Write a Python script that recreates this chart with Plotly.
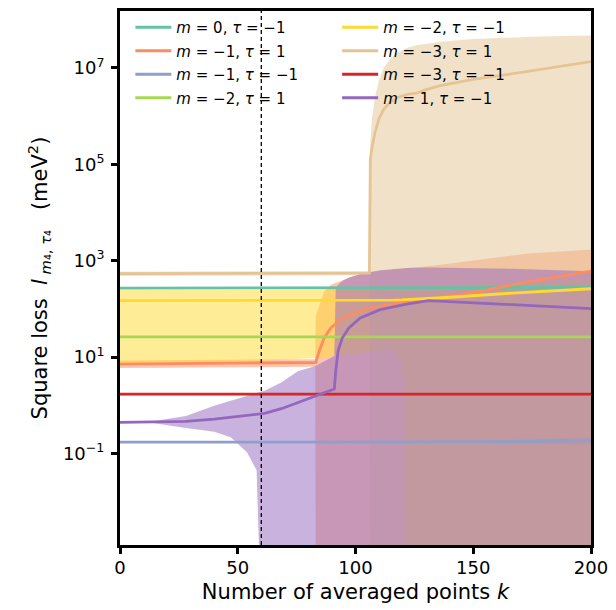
import plotly.graph_objects as go

# ---------------- data ----------------
FLOOR = 1e-4  # band lower bound that dropped to <= 0 (clipped on the log axis)

labels = [
    "<i>m</i> = 0, <i>τ</i> = −1",
    "<i>m</i> = −1, <i>τ</i> = 1",
    "<i>m</i> = −1, <i>τ</i> = −1",
    "<i>m</i> = −2, <i>τ</i> = 1",
    "<i>m</i> = −2, <i>τ</i> = −1",
    "<i>m</i> = −3, <i>τ</i> = 1",
    "<i>m</i> = −3, <i>τ</i> = −1",
    "<i>m</i> = 1, <i>τ</i> = −1",
]
colors = ["#66c2a5", "#fc8d62", "#8da0cb", "#a6d854",
          "#ffd92f", "#e5c494", "#d62728", "#9467bd"]

# m=0, tau=-1
k_a = [0, 50, 100, 150, 200]
y_a = [270, 270, 270, 275, 282]
lo_a = [261, 261, 261, 265, 271]
hi_a = [279, 279, 279, 285, 293]

# m=-1, tau=1
k_b = [0, 40, 82.9, 83.1, 84.6, 86.7, 89.5, 93.7, 96.5, 99.3, 106.3, 117.5, 134.4, 152.5, 173.5, 200]
y_b = [7.16, 7.41, 7.6, 7.7, 13.3, 25.0, 40.2, 59.8, 70.0, 81.8, 104, 132, 167, 229, 369, 603]
lo_b = [5.9, 6.1, 6.3, FLOOR, FLOOR, FLOOR, FLOOR, FLOOR, FLOOR, FLOOR, FLOOR, FLOOR, FLOOR, FLOOR, FLOOR, FLOOR]
hi_b = [8.5, 8.8, 9.0, 70, 120, 229, 316, 372, 427, 480, 589, 660, 800, 1050, 1400, 1700]

# m=-1, tau=-1
k_c = [0, 100, 150, 175, 200]
y_c = [0.171, 0.171, 0.174, 0.178, 0.185]
lo_c = [0.164, 0.164, 0.166, 0.160, 0.151]
hi_c = [0.178, 0.178, 0.183, 0.197, 0.217]

# m=-2, tau=1
k_d = [0, 100, 200]
y_d = [26.2, 26.2, 26.2]
lo_d = [25.0, 25.0, 25.0]
hi_d = [27.4, 27.4, 27.4]

# m=-2, tau=-1
k_e = [0, 50, 83, 100, 110, 116.7, 119.6, 120.9, 121.1, 138.6, 166.6, 200]
y_e = [147.6, 147.6, 147.6, 148, 150, 151, 153, 155, 155, 172, 212, 261]
lo_e = [6.9, 7.9, 9.5, 12.0, 13.5, 14.6, 6.5, 2.75, FLOOR, FLOOR, FLOOR, FLOOR]
hi_e = [249, 249, 251, 260, 270, 275, 278, 280, 280, 300, 350, 420]

# m=-3, tau=1
k_f = [0, 50, 105.9, 106.3, 107, 108.3, 110, 112, 114.6, 117.5, 122, 126, 130, 136, 150, 164, 178, 200]
y_f = [540, 545, 550, 1.26e5, 2.24e5, 4.57e5, 8.9e5, 1.38e6, 1.9e6, 2.4e6, 2.82e6, 3.0e6,
       3.55e6, 4.27e6, 5.75e6, 7.24e6, 9.1e6, 1.35e7]
lo_f = [480, 490, 500, FLOOR, FLOOR, FLOOR, FLOOR, FLOOR, FLOOR, FLOOR, FLOOR, FLOOR,
        FLOOR, FLOOR, FLOOR, FLOOR, FLOOR, FLOOR]
hi_f = [590, 600, 610, 3.0e5, 9.0e5, 2.5e6, 5.6e6, 1.0e7, 1.5e7, 2.0e7, 2.6e7, 2.95e7,
        3.2e7, 3.5e7, 3.98e7, 4.27e7, 4.47e7, 4.68e7]

# m=-3, tau=-1
k_g = [0, 100, 200]
y_g = [1.70, 1.70, 1.70]
lo_g = [1.62, 1.62, 1.62]
hi_g = [1.78, 1.78, 1.78]

# m=1, tau=-1
k_h = [0, 14, 28, 40, 47, 54, 58, 59.7, 61.4, 68.5, 75.5, 83, 91, 91.6, 92.6, 94.4, 97.2,
       102, 110.5, 121.7, 131, 166.6, 200]
y_h = [0.442, 0.447, 0.463, 0.513, 0.562, 0.61, 0.631, 0.661, 0.676, 0.847, 1.14, 1.57, 2.16,
       5.14, 13.3, 25.0, 40.2, 64.6, 96.2, 126, 148, 122, 101]
lo_h = [0.442, 0.427, 0.339, 0.282, 0.217, 0.105, 0.0447, FLOOR, FLOOR, FLOOR, FLOOR, FLOOR,
        FLOOR, FLOOR, FLOOR, FLOOR, FLOOR, FLOOR, FLOOR, FLOOR, FLOOR, FLOOR, FLOOR]
hi_h = [0.442, 0.468, 0.6, 0.98, 1.24, 1.58, 1.82, 1.9, 2.0, 2.95, 5.1, 6.5, 10.5,
        269, 316, 380, 447, 525, 631, 708, 724, 676, 603]

k_cut = 60  # dashed vertical marker

x_ticks = [0, 50, 100, 150, 200]
y_ticks = [1e-1, 1e1, 1e3, 1e5, 1e7]
y_ticktext = ["10<sup>−1</sup>", "10<sup>1</sup>", "10<sup>3</sup>",
              "10<sup>5</sup>", "10<sup>7</sup>"]

series = [
    (k_a, y_a, lo_a, hi_a),
    (k_b, y_b, lo_b, hi_b),
    (k_c, y_c, lo_c, hi_c),
    (k_d, y_d, lo_d, hi_d),
    (k_e, y_e, lo_e, hi_e),
    (k_f, y_f, lo_f, hi_f),
    (k_g, y_g, lo_g, hi_g),
    (k_h, y_h, lo_h, hi_h),
]


def rgba(hex_color, a):
    h = hex_color.lstrip("#")
    r, g, b = int(h[0:2], 16), int(h[2:4], 16), int(h[4:6], 16)
    return f"rgba({r},{g},{b},{a})"


fig = go.Figure()

# bands first (below all lines)
for (k, y, lo, hi), c in zip(series, colors):
    fig.add_trace(go.Scatter(
        x=list(k) + list(k)[::-1],
        y=list(hi) + list(lo)[::-1],
        fill="toself", fillcolor=rgba(c, 0.5),
        line=dict(width=0, color=rgba(c, 0)),
        mode="lines", hoverinfo="skip", showlegend=False,
    ))

# mean lines
for i, ((k, y, lo, hi), c, lab) in enumerate(zip(series, colors, labels)):
    fig.add_trace(go.Scatter(
        x=k, y=y, mode="lines", name=lab,
        line=dict(color=c, width=2.8),
        legend="legend" if i < 4 else "legend2",
        legendgroup=lab,
    ))

fig.add_vline(x=k_cut, line=dict(color="black", width=1.3, dash="4px,3px"), layer="above")

legend_common = dict(
    yanchor="top", xanchor="left", y=1.0,
    bgcolor="rgba(0,0,0,0)", borderwidth=0,
    font=dict(size=15, family="DejaVu Sans", color="black"),
    tracegroupgap=1, itemwidth=36,
)

NB = "\u00a0"
y_title = ("Square loss " + NB + "<i>l</i><sub>" + NB + "<i>m</i>₄," + NB + "<i>τ</i>₄</sub>"
           + NB + NB + NB + "(meV<sup>2</sup>)")

fig.update_layout(
    width=616, height=610,
    margin=dict(l=120, r=18, t=8, b=65),
    plot_bgcolor="white", paper_bgcolor="white",
    font=dict(family="DejaVu Sans", size=18, color="black"),
    legend=dict(x=0.022, **legend_common),
    legend2=dict(x=0.461, **legend_common),
    xaxis=dict(
        range=[0, 200], tickvals=x_ticks, ticks="outside", ticklen=6, tickwidth=2.5,
        tickcolor="black", showline=True, linewidth=3, linecolor="black", mirror=True,
        showgrid=False, zeroline=False, ticklabelstandoff=-2,
        title=dict(text="Number of averaged points <i>k</i>", font=dict(size=21), standoff=8),
    ),
    yaxis=dict(
        type="log", range=[-2.9, 8.18], tickvals=y_ticks, ticktext=y_ticktext,
        ticks="outside", ticklen=6, tickwidth=2.5, tickcolor="black",
        showline=True, linewidth=3, linecolor="black", mirror=True,
        showgrid=False, zeroline=False, ticklabelstandoff=3,
        title=dict(text=y_title, font=dict(size=21), standoff=10),
    ),
)

fig.write_html("out.html", config={"displayModeBar": False},
               post_script="document.body.style.margin='0px';")
